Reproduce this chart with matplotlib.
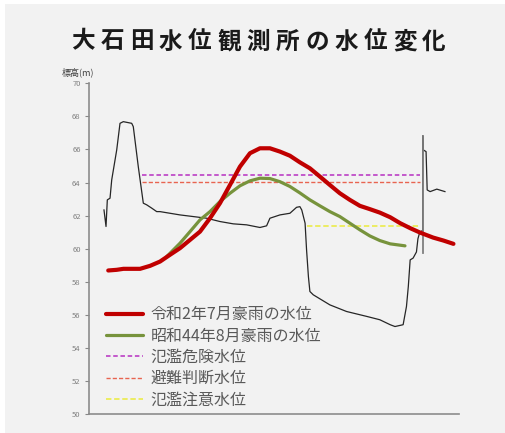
import matplotlib.pyplot as plt
from matplotlib.patches import Rectangle
import numpy as np

plt.rcParams['font.family'] = ['Noto Sans CJK JP', 'DejaVu Sans']

# x は横断方向の相対位置 (0-100)、y は標高 (m)
terrain_x = [4.05, 4.6, 4.95, 5.68, 6.14, 7.49, 8.38, 9.27, 11.54, 11.97, 13.32, 14.68,
             15.59, 16.95, 18.3, 19.19, 24.6, 31.8, 35.4, 39.0, 42.6, 46.2, 48.0, 48.9,
             51.6, 54.3, 56.1, 57.0, 57.5, 58.4, 58.8, 59.3, 59.7, 60.6, 65.1, 69.6,
             75.1, 78.6, 81.4, 82.7, 84.9, 85.8, 86.3, 86.8, 87.6, 88.5, 88.9, 89.4,
             90.2, 90.2, 90.35, 91.1, 91.4, 92.2, 94.0, 96.2]
terrain_y = [62.34, 61.34, 62.95, 63.05, 64.16, 65.97, 67.58, 67.68, 67.58, 67.38, 64.96, 62.75,
             62.65, 62.45, 62.24, 62.24, 62.04, 61.84, 61.64, 61.5, 61.44, 61.28, 61.38, 61.84,
             62.04, 62.14, 62.5, 62.54, 62.34, 61.54, 59.93, 58.31, 57.41, 57.21, 56.6, 56.2,
             55.9, 55.7, 55.4, 55.29, 55.4, 56.5, 57.71, 59.32, 59.43, 59.8, 60.6, 61.0,
             61.1, 66.82, 65.97, 65.87, 63.55, 63.45, 63.6, 63.45]
# 橋脚らしき縦線
pier_x = [90.2, 90.2]
pier_y = [59.75, 66.82]

reiwa_x = [5.2, 7.5, 9.3, 13.8, 16.5, 19.2, 21.9, 24.6, 27.3, 30.0, 32.7, 35.4, 38.1, 40.8,
           43.5, 46.2, 48.9, 51.6, 54.3, 57.0, 59.7, 62.4, 65.1, 67.8, 70.5, 73.2, 75.9,
           78.6, 81.4, 84.1, 86.8, 89.5, 93.0, 95.8, 98.5]
reiwa_y = [58.68, 58.72, 58.78, 58.78, 58.96, 59.22, 59.63, 60.03, 60.53, 61.03, 61.84, 62.75,
           63.85, 64.96, 65.77, 66.07, 66.07, 65.87, 65.62, 65.22, 64.86, 64.36, 63.85, 63.35,
           62.95, 62.59, 62.39, 62.18, 61.9, 61.54, 61.24, 60.97, 60.67, 60.49, 60.29]

showa_x = [21.0, 24.6, 27.3, 30.0, 32.7, 35.4, 38.1, 40.8, 43.5, 46.2, 48.9, 51.6, 54.3,
           57.0, 59.7, 62.4, 65.1, 67.8, 70.5, 73.2, 75.9, 78.6, 81.4, 85.4]
showa_y = [59.52, 60.33, 61.03, 61.74, 62.24, 62.85, 63.35, 63.8, 64.1, 64.26, 64.24, 64.05,
           63.76, 63.37, 62.95, 62.59, 62.24, 61.94, 61.54, 61.14, 60.77, 60.49, 60.29, 60.17]

danger_level = 64.45     # 氾濫危険水位
evac_level = 64.05       # 避難判断水位
caution_level = 61.34    # 氾濫注意水位
danger_range = [14.2, 89.5]
caution_range = [58.8, 89.5]

yticks = [50, 52, 54, 56, 58, 60, 62, 64, 66, 68, 70]

fig = plt.figure(figsize=(5.06, 4.33), dpi=100, facecolor='white')
fig.patches.append(Rectangle((5 / 506, 0), 1, 1 - 4 / 433, transform=fig.transFigure,
                             facecolor='#f2f2f2', edgecolor='none', zorder=-10))

ax = fig.add_axes([89 / 506, 1 - 414 / 433, 370 / 506, 330.7 / 433])
ax.set_facecolor('none')

ax.plot(terrain_x, terrain_y, color='#262626', lw=0.9, zorder=2)
ax.plot(pier_x, pier_y, color='#7f7f7f', lw=1.3, zorder=2)

ax.plot(danger_range, [danger_level] * 2, color='#c04cc8', lw=1.3, ls=(0, (2.5, 1.5)),
        label='氾濫危険水位', zorder=3)
ax.plot(danger_range, [evac_level] * 2, color='#e86450', lw=1.0, ls=(0, (3, 1.5)),
        label='避難判断水位', zorder=3)
ax.plot(caution_range, [caution_level] * 2, color='#ecec58', lw=1.3, ls=(0, (3, 1.5)),
        label='氾濫注意水位', zorder=3)

ax.plot(showa_x, showa_y, color='#77933c', lw=2.3, label='昭和44年8月豪雨の水位', zorder=4,
        solid_joinstyle='round', solid_capstyle='round')
ax.plot(reiwa_x, reiwa_y, color='#c00000', lw=3.0, label='令和2年7月豪雨の水位', zorder=5,
        solid_joinstyle='round', solid_capstyle='round')

ax.set_xlim(0, 100)
ax.set_ylim(50, 70)
ax.set_xticks([])
ax.set_yticks(yticks)
ax.tick_params(axis='y', direction='out', length=3, width=0.8, color='#888888',
               labelsize=5.5, labelcolor='#7f7f7f', pad=3)
for s in ['top', 'right']:
    ax.spines[s].set_visible(False)
for s in ['left', 'bottom']:
    ax.spines[s].set_color('#8c8c8c')
    ax.spines[s].set_linewidth(1.2)

handles, labels = ax.get_legend_handles_labels()
order = [4, 3, 0, 1, 2]
leg = ax.legend([handles[i] for i in order], [labels[i] for i in order],
                loc='upper left', bbox_to_anchor=(0.03, 0.345), frameon=False,
                fontsize=11.5, handlelength=2.3, handletextpad=0.45, labelspacing=0.27,
                borderaxespad=0)
for t in leg.get_texts():
    t.set_color('#595959')

fig.text(62 / 506, 1 - 72 / 433, '標高(m)', fontsize=6.5, color='#404040',
         ha='left', va='center')

title = '大石田水位観測所の水位変化'
for cx, ch in zip(np.linspace(83, 434, len(title)), title):
    fig.text(cx / 506, 1 - 41.5 / 433, ch, fontsize=17, fontweight='bold',
             color='#1a1a1a', ha='center', va='center')

fig.savefig('out.png', dpi=100, facecolor=fig.get_facecolor())
